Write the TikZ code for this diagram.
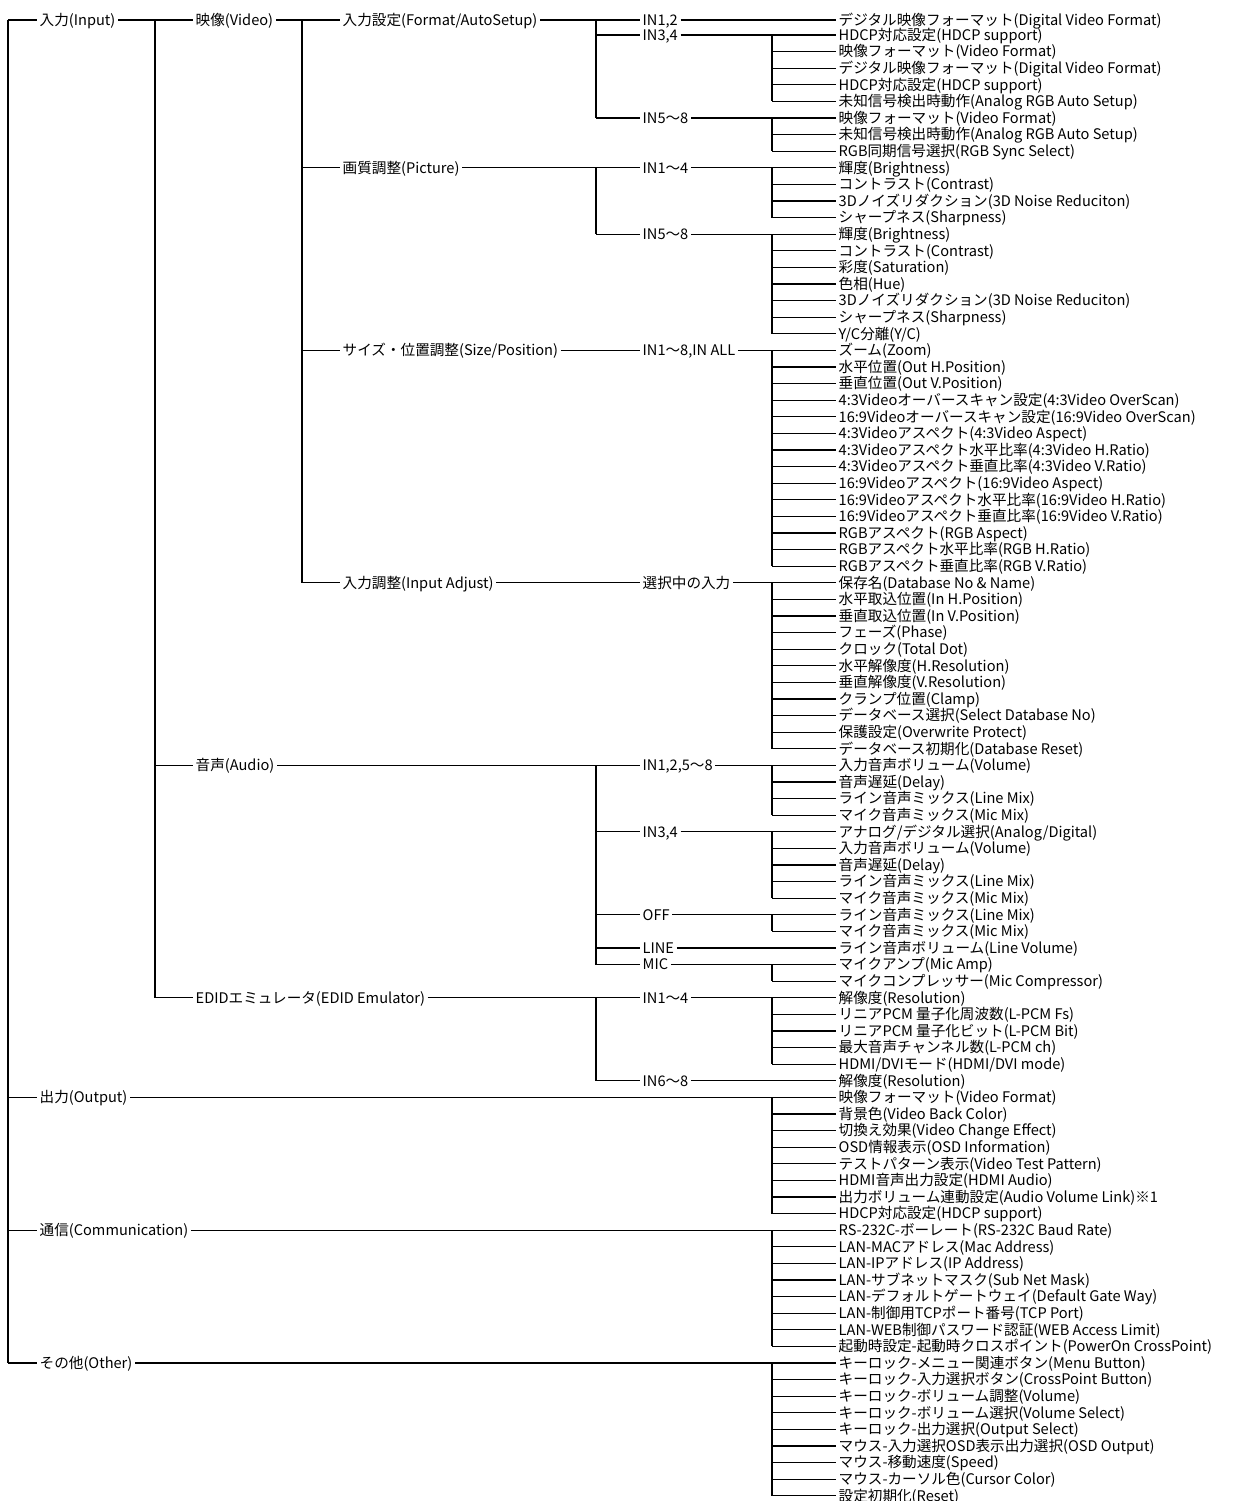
\documentclass[tikz,border=0pt]{standalone}
\usepackage{fontspec}
\setmainfont{Noto Sans CJK JP}
\tikzset{
  lbl/.style={anchor=west, inner xsep=2.5pt, inner ysep=0pt, text height=12pt, text depth=1.5pt,
    font=\fontsize{14.6pt}{16pt}\selectfont},
  wire/.style={line width=1.2pt, black},
}
\newcommand\lf[3]{\node[lbl] (#1) at (836,{#2==1 ? 20 : 35+(#2-2)*16.6}) {#3};}
\newcommand\nd[4]{\node[lbl] (#1) at (#2,{#3==1 ? 20 : 35+(#3-2)*16.6}) {#4};}
\begin{document}
\begin{tikzpicture}[x=1pt,y=-1pt]
\useasboundingbox (0,0) rectangle (1232,1501);
\coordinate (vA) at (8,0);
\coordinate (vB) at (155,0);
\coordinate (vC) at (302,0);
\coordinate (vD) at (596,0);
\coordinate (vE) at (772,0);
% level 1
\nd{n1in}{37}{1}{入力(Input)}
\nd{n1out}{37}{66}{出力(Output)}
\nd{n1com}{37}{74}{通信(Communication)}
\nd{n1oth}{37}{82}{その他(Other)}
% level 2
\nd{vid}{193}{1}{映像(Video)}
\nd{aud}{193}{46}{音声(Audio)}
\nd{edid}{193}{60}{EDIDエミュレータ(EDID Emulator)}
% level 3
\nd{fmt}{340}{1}{入力設定(Format/AutoSetup)}
\nd{pic}{340}{10}{画質調整(Picture)}
\nd{siz}{340}{21}{サイズ・位置調整(Size/Position)}
\nd{adj}{340}{35}{入力調整(Input Adjust)}
% level 4
\nd{f12}{640}{1}{IN1,2}
\nd{f34}{640}{2}{IN3,4}
\nd{f58}{640}{7}{IN5〜8}
\nd{p14}{640}{10}{IN1〜4}
\nd{p58}{640}{14}{IN5〜8}
\nd{sall}{640}{21}{IN1〜8,IN ALL}
\nd{asel}{640}{35}{選択中の入力}
\nd{a1258}{640}{46}{IN1,2,5〜8}
\nd{a34}{640}{50}{IN3,4}
\nd{aoff}{640}{55}{OFF}
\nd{aline}{640}{57}{LINE}
\nd{amic}{640}{58}{MIC}
\nd{e14}{640}{60}{IN1〜4}
\nd{e68}{640}{65}{IN6〜8}
% leaves
\lf{r1}{1}{デジタル映像フォーマット(Digital Video Format)}
\lf{r2}{2}{HDCP対応設定(HDCP support)}
\lf{r3}{3}{映像フォーマット(Video Format)}
\lf{r4}{4}{デジタル映像フォーマット(Digital Video Format)}
\lf{r5}{5}{HDCP対応設定(HDCP support)}
\lf{r6}{6}{未知信号検出時動作(Analog RGB Auto Setup)}
\lf{r7}{7}{映像フォーマット(Video Format)}
\lf{r8}{8}{未知信号検出時動作(Analog RGB Auto Setup)}
\lf{r9}{9}{RGB同期信号選択(RGB Sync Select)}
\lf{r10}{10}{輝度(Brightness)}
\lf{r11}{11}{コントラスト(Contrast)}
\lf{r12}{12}{3Dノイズリダクション(3D Noise Reduciton)}
\lf{r13}{13}{シャープネス(Sharpness)}
\lf{r14}{14}{輝度(Brightness)}
\lf{r15}{15}{コントラスト(Contrast)}
\lf{r16}{16}{彩度(Saturation)}
\lf{r17}{17}{色相(Hue)}
\lf{r18}{18}{3Dノイズリダクション(3D Noise Reduciton)}
\lf{r19}{19}{シャープネス(Sharpness)}
\lf{r20}{20}{Y/C分離(Y/C)}
\lf{r21}{21}{ズーム(Zoom)}
\lf{r22}{22}{水平位置(Out H.Position)}
\lf{r23}{23}{垂直位置(Out V.Position)}
\lf{r24}{24}{4:3Videoオーバースキャン設定(4:3Video OverScan)}
\lf{r25}{25}{16:9Videoオーバースキャン設定(16:9Video OverScan)}
\lf{r26}{26}{4:3Videoアスペクト(4:3Video Aspect)}
\lf{r27}{27}{4:3Videoアスペクト水平比率(4:3Video H.Ratio)}
\lf{r28}{28}{4:3Videoアスペクト垂直比率(4:3Video V.Ratio)}
\lf{r29}{29}{16:9Videoアスペクト(16:9Video Aspect)}
\lf{r30}{30}{16:9Videoアスペクト水平比率(16:9Video H.Ratio)}
\lf{r31}{31}{16:9Videoアスペクト垂直比率(16:9Video V.Ratio)}
\lf{r32}{32}{RGBアスペクト(RGB Aspect)}
\lf{r33}{33}{RGBアスペクト水平比率(RGB H.Ratio)}
\lf{r34}{34}{RGBアスペクト垂直比率(RGB V.Ratio)}
\lf{r35}{35}{保存名(Database No \& Name)}
\lf{r36}{36}{水平取込位置(In H.Position)}
\lf{r37}{37}{垂直取込位置(In V.Position)}
\lf{r38}{38}{フェーズ(Phase)}
\lf{r39}{39}{クロック(Total Dot)}
\lf{r40}{40}{水平解像度(H.Resolution)}
\lf{r41}{41}{垂直解像度(V.Resolution)}
\lf{r42}{42}{クランプ位置(Clamp)}
\lf{r43}{43}{データベース選択(Select Database No)}
\lf{r44}{44}{保護設定(Overwrite Protect)}
\lf{r45}{45}{データベース初期化(Database Reset)}
\lf{r46}{46}{入力音声ボリューム(Volume)}
\lf{r47}{47}{音声遅延(Delay)}
\lf{r48}{48}{ライン音声ミックス(Line Mix)}
\lf{r49}{49}{マイク音声ミックス(Mic Mix)}
\lf{r50}{50}{アナログ/デジタル選択(Analog/Digital)}
\lf{r51}{51}{入力音声ボリューム(Volume)}
\lf{r52}{52}{音声遅延(Delay)}
\lf{r53}{53}{ライン音声ミックス(Line Mix)}
\lf{r54}{54}{マイク音声ミックス(Mic Mix)}
\lf{r55}{55}{ライン音声ミックス(Line Mix)}
\lf{r56}{56}{マイク音声ミックス(Mic Mix)}
\lf{r57}{57}{ライン音声ボリューム(Line Volume)}
\lf{r58}{58}{マイクアンプ(Mic Amp)}
\lf{r59}{59}{マイクコンプレッサー(Mic Compressor)}
\lf{r60}{60}{解像度(Resolution)}
\lf{r61}{61}{リニアPCM 量子化周波数(L-PCM Fs)}
\lf{r62}{62}{リニアPCM 量子化ビット(L-PCM Bit)}
\lf{r63}{63}{最大音声チャンネル数(L-PCM ch)}
\lf{r64}{64}{HDMI/DVIモード(HDMI/DVI mode)}
\lf{r65}{65}{解像度(Resolution)}
\lf{r66}{66}{映像フォーマット(Video Format)}
\lf{r67}{67}{背景色(Video Back Color)}
\lf{r68}{68}{切換え効果(Video Change Effect)}
\lf{r69}{69}{OSD情報表示(OSD Information)}
\lf{r70}{70}{テストパターン表示(Video Test Pattern)}
\lf{r71}{71}{HDMI音声出力設定(HDMI Audio)}
\lf{r72}{72}{出力ボリューム連動設定(Audio Volume Link)※1}
\lf{r73}{73}{HDCP対応設定(HDCP support)}
\lf{r74}{74}{RS-232C-ボーレート(RS-232C Baud Rate)}
\lf{r75}{75}{LAN-MACアドレス(Mac Address)}
\lf{r76}{76}{LAN-IPアドレス(IP Address)}
\lf{r77}{77}{LAN-サブネットマスク(Sub Net Mask)}
\lf{r78}{78}{LAN-デフォルトゲートウェイ(Default Gate Way)}
\lf{r79}{79}{LAN-制御用TCPポート番号(TCP Port)}
\lf{r80}{80}{LAN-WEB制御パスワード認証(WEB Access Limit)}
\lf{r81}{81}{起動時設定-起動時クロスポイント(PowerOn CrossPoint)}
\lf{r82}{82}{キーロック-メニュー関連ボタン(Menu Button)}
\lf{r83}{83}{キーロック-入力選択ボタン(CrossPoint Button)}
\lf{r84}{84}{キーロック-ボリューム調整(Volume)}
\lf{r85}{85}{キーロック-ボリューム選択(Volume Select)}
\lf{r86}{86}{キーロック-出力選択(Output Select)}
\lf{r87}{87}{マウス-入力選択OSD表示出力選択(OSD Output)}
\lf{r88}{88}{マウス-移動速度(Speed)}
\lf{r89}{89}{マウス-カーソル色(Cursor Color)}
\lf{r90}{90}{設定初期化(Reset)}
% ---- connectors ----
\begin{scope}[wire]
% root
\draw (vA |- n1in.west) -- (vA |- n1oth.west);
\foreach \n in {n1in,n1out,n1com,n1oth} \draw (vA |- \n.west) -- (\n.west);
% level 2
\draw (n1in.east) -- (vB |- n1in.east);
\draw (vB |- vid.west) -- (vB |- edid.west);
\foreach \n in {vid,aud,edid} \draw (vB |- \n.west) -- (\n.west);
% level 3
\draw (vid.east) -- (vC |- vid.east);
\draw (vC |- fmt.west) -- (vC |- adj.west);
\foreach \n in {fmt,pic,siz,adj} \draw (vC |- \n.west) -- (\n.west);
% level 4
\draw (fmt.east) -- (vD |- fmt.east);
\draw (vD |- f12.west) -- (vD |- f58.west);
\foreach \n in {f12,f34,f58} \draw (vD |- \n.west) -- (\n.west);
\draw (pic.east) -- (vD |- pic.east);
\draw (vD |- p14.west) -- (vD |- p58.west);
\foreach \n in {p14,p58} \draw (vD |- \n.west) -- (\n.west);
\draw (siz.east) -- (sall.west);
\draw (adj.east) -- (asel.west);
\draw (aud.east) -- (vD |- aud.east);
\draw (vD |- a1258.west) -- (vD |- amic.west);
\foreach \n in {a1258,a34,aoff,aline,amic} \draw (vD |- \n.west) -- (\n.west);
\draw (edid.east) -- (vD |- edid.east);
\draw (vD |- e14.west) -- (vD |- e68.west);
\foreach \n in {e14,e68} \draw (vD |- \n.west) -- (\n.west);
% level 5
\foreach \g/\a/\b in {f34/2/6, f58/7/9, p14/10/13, p58/14/20, sall/21/34, asel/35/45,
  a1258/46/49, a34/50/54, aoff/55/56, amic/58/59, e14/60/64, n1out/66/73, n1com/74/81, n1oth/82/90}{
  \draw (\g.east) -- (r\a.west);
  \draw (vE |- r\a.west) -- (vE |- r\b.west);
  \pgfmathtruncatemacro\c{\a+1}
  \foreach \i in {\c,...,\b} \draw (vE |- r\i.west) -- (r\i.west);
}
\draw (f12.east) -- (r1.west);
\draw (aline.east) -- (r57.west);
\draw (e68.east) -- (r65.west);
\end{scope}
\end{tikzpicture}
\end{document}
